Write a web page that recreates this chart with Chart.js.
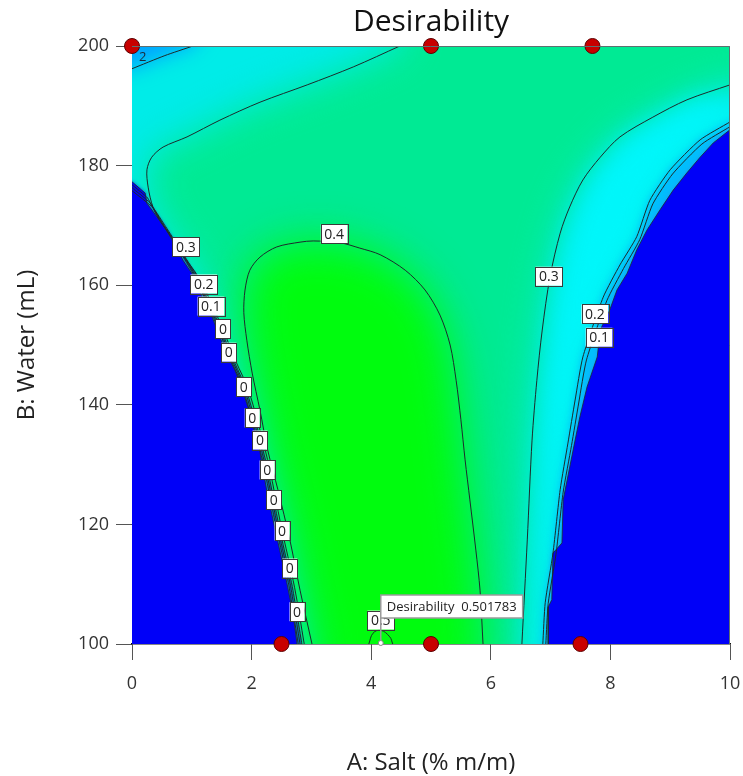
<!DOCTYPE html>
<html>
<head>
<meta charset="utf-8">
<title>Desirability</title>
<script src="https://cdn.jsdelivr.net/npm/chart.js@4.4.1/dist/chart.umd.min.js"></script>
<style>
  html, body { margin: 0; padding: 0; background: #fff; }
</style>
</head>
<body>
<canvas id="desirabilityChart" width="743" height="776"></canvas>
<script>
// design points (A: salt, B: water)
const designPoints = [[0, 200], [5, 200], [7.7, 200], [2.5, 100], [5, 100], [7.5, 100]];

// left boundary of the zero region
const edgeLeft = [[0, 177.3], [0.22, 175.4], [0.25, 173.7], [0.42, 171.4], [0.55, 169.7], [0.64, 168.1],
  [0.85, 164.2], [1.0, 162.0], [1.17, 158.0], [1.34, 154.7], [1.47, 151.3], [1.61, 148.0], [1.72, 145.8],
  [1.81, 143.6], [1.94, 139.6], [2.02, 136.3], [2.11, 134.1], [2.17, 130.3], [2.26, 125.3], [2.36, 120.7],
  [2.47, 115.7], [2.59, 110.2], [2.69, 105.2], [2.76, 100]];

// right boundary of the zero region
const edgeRight = [[10, 186.0], [9.72, 183.8], [9.50, 181.4], [9.28, 178.8], [9.05, 175.9], [8.83, 172.6],
  [8.61, 169.2], [8.44, 165.9], [8.28, 162.0], [8.11, 159.2], [7.99, 155.9], [7.83, 152.5], [7.78, 148.0],
  [7.61, 143.0], [7.49, 138.0], [7.41, 134.1], [7.21, 124.1], [7.19, 116.9], [7.04, 115.2], [7.02, 107.4],
  [6.96, 106.2], [6.96, 100]];

// contour lines
const contour0Left = [[0, 176.8], [0.26, 174.6], [0.45, 171.0], [0.67, 167.8], [1.03, 161.8], [1.37, 154.4],
  [1.64, 147.8], [1.84, 143.3], [2.05, 136.0], [2.20, 130.0], [2.39, 120.5], [2.62, 110.0], [2.78, 100]];
const contour01Left = [[0, 176.3], [0.30, 173.8], [0.50, 170.5], [0.70, 167.5], [1.06, 161.6], [1.40, 154.2],
  [1.67, 147.6], [1.87, 143.1], [2.08, 135.8], [2.23, 129.8], [2.42, 120.3], [2.65, 109.8], [2.81, 100]];
const contour02Left = [[0, 175.8], [0.35, 173.0], [0.55, 170.0], [0.73, 167.2], [1.09, 161.4], [1.43, 154.0],
  [1.70, 147.4], [1.90, 142.9], [2.11, 135.6], [2.26, 129.6], [2.45, 120.1], [2.68, 109.6], [2.84, 100]];
const contour03Left = [[4.48, 200], [3.70, 196.5], [2.93, 193.5], [2.14, 190.6], [1.47, 187.6], [0.92, 184.8],
  [0.52, 183.1], [0.33, 181.4], [0.25, 179.3], [0.27, 176.4], [0.35, 173.1], [0.50, 170.4], [0.66, 168.0],
  [0.78, 166.0], [1.12, 161.2], [1.47, 153.8], [1.74, 147.2], [1.94, 142.7], [2.15, 135.4], [2.30, 129.4],
  [2.49, 119.9], [2.72, 109.4], [2.88, 100]];
const contour02TopLeft = [[0, 196.2], [0.55, 198.4], [1.02, 200]];
const contour04 = [[3.01, 100], [2.81, 109.0], [2.64, 117.4], [2.44, 125.8], [2.27, 132.4], [2.14, 139.1],
  [2.01, 145.3], [1.92, 150.8], [1.87, 155.4], [1.89, 159.2], [1.97, 162.5], [2.14, 164.7], [2.42, 166.4],
  [2.81, 167.2], [3.03, 167.4], [3.48, 167.1], [3.81, 166.2], [4.15, 165.1], [4.57, 162.5], [4.90, 159.2],
  [5.15, 155.0], [5.32, 150.0], [5.42, 144.1], [5.50, 137.5], [5.57, 130.8], [5.65, 124.1], [5.75, 115.7],
  [5.82, 109.0], [5.87, 100]];
const contour05 = [[3.96, 100], [4.03, 101.8], [4.16, 102.3], [4.31, 101.2], [4.36, 100]];
const contour03Right = [[10, 193.5], [9.28, 191.0], [8.71, 188.1], [8.16, 184.8], [7.83, 181.4], [7.54, 177.6],
  [7.32, 173.1], [7.16, 168.7], [6.99, 161.4], [6.86, 152.5], [6.77, 144.1], [6.69, 134.1], [6.61, 117.4],
  [6.52, 100]];
const contour02Right = [[10, 187.3], [9.50, 184.3], [9.0, 179.3], [8.66, 174.2], [8.44, 168.1], [8.16, 163.4],
  [7.88, 158.0], [7.54, 148.0], [7.41, 140.8], [7.29, 133.6], [7.16, 125.8], [7.04, 115.2], [6.91, 106.9],
  [6.87, 100]];
const contour01Right = [[10, 186.5], [9.53, 183.6], [9.04, 178.6], [8.71, 173.6], [8.49, 167.6], [8.22, 162.8],
  [7.94, 157.4], [7.60, 147.5], [7.47, 140.3], [7.35, 133.2], [7.21, 125.4], [7.09, 115.0], [6.96, 106.8],
  [6.92, 100]];

// contour labels
const labelText = ['0.3', '0.2', '0.1', '0', '0', '0', '0', '0', '0', '0', '0', '0', '0', '0.4', '0.3', '0.2', '0.1', '0.5'];
const labelX = [0.90, 1.20, 1.32, 1.52, 1.62, 1.87, 2.01, 2.14, 2.26, 2.37, 2.51, 2.64, 2.76, 3.38, 6.97, 7.74, 7.81, 4.16];
const labelY = [166.4, 160.2, 156.5, 152.7, 148.8, 143.0, 137.8, 134.1, 129.1, 124.1, 118.9, 112.7, 105.4, 168.6, 161.5, 155.2, 151.3, 104.0];
const bareLabelText = ['2'];
const bareLabelX = [0.18];
const bareLabelY = [198.1];

// optimum flag
const flagPoint = [4.16, 100];
const flagText = 'Desirability  0.501783';

const xTicks = [0, 2, 4, 6, 8, 10];
const yTicks = [100, 120, 140, 160, 180, 200];

const FONT = "'Open Sans', 'Noto Sans', sans-serif";
Chart.defaults.font.family = FONT;

function toPx(chart, p) {
  return [chart.scales.x.getPixelForValue(p[0]), chart.scales.y.getPixelForValue(p[1])];
}

function fillShape(ctx, chart, pts, color, blur) {
  ctx.filter = blur ? 'blur(' + blur + 'px)' : 'none';
  ctx.fillStyle = color;
  ctx.beginPath();
  pts.forEach((p, i) => {
    const [X, Y] = toPx(chart, p);
    if (i === 0) ctx.moveTo(X, Y); else ctx.lineTo(X, Y);
  });
  ctx.closePath();
  ctx.fill();
}

const rev = pts => pts.slice().reverse();

const surfacePlugin = {
  id: 'surface',
  beforeDatasetsDraw(chart) {
    const { ctx, chartArea: a } = chart;
    ctx.save();
    ctx.beginPath();
    ctx.rect(a.left, a.top, a.width, a.height);
    ctx.clip();
    ctx.fillStyle = 'rgb(0,236,232)';
    ctx.fillRect(a.left, a.top, a.width, a.height);

    // corner above the small 0.2 line
    fillShape(ctx, chart, [[-1, 212], [-1, 195.8], ...contour02TopLeft, [1.8, 212]], 'rgb(0,165,255)', 10);

    // between the two 0.3 lines
    fillShape(ctx, chart, [[4.6, 214], ...contour03Left, [2.88, 90], [6.52, 90], ...rev(contour03Right), [10.6, 193.5], [10.6, 214]],
      'rgb(0,234,148)', 18);

    // inside 0.4
    fillShape(ctx, chart, [...contour04, [5.87, 90], [3.01, 90]], 'rgb(0,252,14)', 22);

    // cyan band on the right side
    fillShape(ctx, chart, [[10.6, 190.5], ...contour03Right.slice(1).map(p => [p[0] + 0.18, p[1]]), [6.75, 90], [6.87, 90], ...rev(contour02Right), [10.6, 187.3]],
      'rgb(0,246,250)', 12);
    fillShape(ctx, chart, [[10.6, 187.3], ...contour02Right, [6.87, 90], [6.96, 90], ...rev(edgeRight), [10.6, 186.0]],
      'rgb(0,185,255)', 4);

    // thin band along the left boundary
    fillShape(ctx, chart, [...edgeLeft, [2.76, 90], [2.84, 90], ...rev(contour02Left)], 'rgb(0,110,185)', 1);

    // zero regions, soft halo first then solid blue
    const leftBlue = [[-1, 177.3], ...edgeLeft, [2.76, 90], [-1, 90]];
    const rightBlue = [[10.6, 186.0], ...edgeRight, [6.96, 90], [10.6, 90]];
    fillShape(ctx, chart, leftBlue, 'rgb(20,110,240)', 2);
    fillShape(ctx, chart, rightBlue, 'rgb(30,130,255)', 3);
    fillShape(ctx, chart, leftBlue, 'rgb(0,0,248)', 0);
    fillShape(ctx, chart, rightBlue, 'rgb(0,0,248)', 0);
    ctx.filter = 'none';
    ctx.restore();
  },
  afterDatasetDraw(chart, args) {
    // labels go above the contour lines but below the design points
    if (args.index !== 1) return;
    const { ctx } = chart;
    ctx.save();
    ctx.font = '14px ' + FONT;
    ctx.textAlign = 'center';
    ctx.textBaseline = 'middle';
    labelText.forEach((t, i) => {
      const [X, Y] = toPx(chart, [labelX[i], labelY[i]]);
      const w = ctx.measureText(t).width + 7;
      const h = 19;
      ctx.fillStyle = '#fff';
      ctx.fillRect(X - w / 2, Y - h / 2, w, h);
      ctx.strokeStyle = '#3a3a3a';
      ctx.lineWidth = 1;
      ctx.strokeRect(Math.round(X - w / 2) + 0.5, Math.round(Y - h / 2) + 0.5, Math.round(w), h);
      ctx.fillStyle = '#222';
      ctx.fillText(t, X, Y + 1);
    });
    ctx.font = '13px ' + FONT;
    bareLabelText.forEach((t, i) => {
      const [X, Y] = toPx(chart, [bareLabelX[i], bareLabelY[i]]);
      ctx.fillStyle = '#1a2a3a';
      ctx.fillText(t, X, Y);
    });
    ctx.restore();
  },
  afterDatasetsDraw(chart) {
    const { ctx, chartArea: a } = chart;
    ctx.save();
    // frame on top and right
    ctx.strokeStyle = '#5f6f6f';
    ctx.lineWidth = 1;
    ctx.beginPath();
    ctx.moveTo(a.left, a.top + 0.5);
    ctx.lineTo(a.right - 0.5, a.top + 0.5);
    ctx.lineTo(a.right - 0.5, a.bottom);
    ctx.stroke();

    // optimum flag
    const [X, Y] = toPx(chart, flagPoint);
    ctx.font = '13px ' + FONT;
    const w = ctx.measureText(flagText).width + 12;
    const top = Y - 49, h = 23;
    ctx.strokeStyle = '#9a9a9a';
    ctx.lineWidth = 1.5;
    ctx.beginPath();
    ctx.moveTo(X, Y - 3);
    ctx.lineTo(X, top + h);
    ctx.stroke();
    ctx.fillStyle = '#fff';
    ctx.fillRect(X, top, w, h);
    ctx.strokeRect(X, top, w, h);
    ctx.fillStyle = '#222';
    ctx.textBaseline = 'middle';
    ctx.fillText(flagText, X + 6, top + h / 2 + 1);
    ctx.beginPath();
    ctx.arc(X, Y - 1, 2.5, 0, Math.PI * 2);
    ctx.fillStyle = '#fff';
    ctx.fill();
    ctx.strokeStyle = '#888';
    ctx.lineWidth = 1;
    ctx.stroke();
    ctx.restore();
  }
};

function asXY(pts) {
  return pts.map(p => ({ x: p[0], y: p[1] }));
}

function contourSet(pts, tension, width) {
  return {
    data: asXY(pts),
    showLine: true,
    pointRadius: 0,
    borderColor: '#1c2b2b',
    borderWidth: width || 1,
    tension: tension
  };
}

const datasets = [
  {
    data: asXY(designPoints),
    pointRadius: 7.5,
    pointBackgroundColor: '#c80000',
    pointBorderColor: '#5c0000',
    pointBorderWidth: 1,
    showLine: false,
    clip: false
  },
  contourSet(contour03Left, 0.3),
  contourSet(contour04, 0.3),
  contourSet(contour05, 0.4),
  contourSet(contour03Right, 0.3),
  contourSet(contour02Right, 0.2),
  contourSet(contour01Right, 0.2),
  contourSet(edgeRight, 0, 0.8),
  contourSet(contour02Left, 0.1),
  contourSet(contour01Left, 0.1),
  contourSet(contour0Left, 0.1),
  contourSet(edgeLeft, 0, 0.8),
  contourSet(contour02TopLeft, 0.2)
];

new Chart(document.getElementById('desirabilityChart'), {
  type: 'scatter',
  data: { datasets: datasets },
  plugins: [surfacePlugin],
  options: {
    responsive: false,
    animation: false,
    events: [],
    layout: { padding: 0 },
    plugins: {
      legend: { display: false },
      tooltip: { enabled: false },
      title: {
        display: true,
        fullSize: false,
        text: 'Desirability',
        color: '#111',
        font: { size: 30, weight: 'normal' },
        padding: { top: 4, bottom: 6 }
      }
    },
    scales: {
      x: {
        type: 'linear',
        min: 0,
        max: 10,
        afterBuildTicks: s => { s.ticks = xTicks.map(v => ({ value: v })); },
        afterFit: s => { s.height = 132; s.paddingRight = 13; s.paddingLeft = 0; },
        ticks: { color: '#333', font: { size: 18 }, padding: 13 },
        grid: { drawOnChartArea: false, tickLength: 16, color: '#555' },
        border: { color: '#111', width: 1.5 },
        title: { display: true, text: 'A: Salt (% m/m)', color: '#222', font: { size: 24 }, padding: { top: 0, bottom: -2 } }
      },
      y: {
        type: 'linear',
        min: 100,
        max: 200,
        afterBuildTicks: s => { s.ticks = yTicks.map(v => ({ value: v })); },
        afterFit: s => { s.width = 132; },
        ticks: { color: '#333', font: { size: 18 }, padding: 7 },
        grid: { drawOnChartArea: false, tickLength: 16, color: '#555' },
        border: { color: '#555', width: 1 },
        title: { display: true, text: 'B: Water (mL)', color: '#222', font: { size: 24 }, padding: { top: 13, bottom: 0 } }
      }
    }
  }
});
</script>
</body>
</html>
